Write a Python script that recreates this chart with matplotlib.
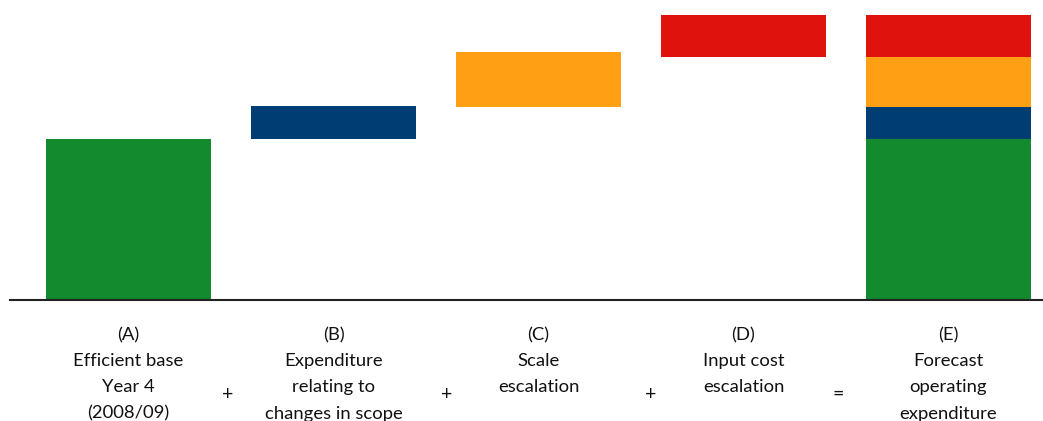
import matplotlib
matplotlib.use("Agg")
import matplotlib.pyplot as plt
from matplotlib.transforms import blended_transform_factory

# Components of forecast operating expenditure (relative units)
components = ["Efficient base", "Scope changes", "Scale escalation", "Input cost escalation"]
colors = ["#138a2e", "#003d73", "#ffa014", "#e0120e"]

# Stacked total (E)
stack_values = [161, 32, 50, 42]

# Waterfall steps (A)-(D): start level and size of each step
step_starts = [0, 161, 193, 243]
step_values = [161, 33.5, 55, 42]

labels = [
    "(A)\nEfficient base\nYear 4\n(2008/09)",
    "(B)\nExpenditure\nrelating to\nchanges in scope",
    "(C)\nScale\nescalation",
    "(D)\nInput cost\nescalation",
    "(E)\nForecast\noperating\nexpenditure",
]
operators = ["+", "+", "+", "="]
operator_x = [0.485, 1.554, 2.549, 3.461]

plt.rcParams["font.family"] = ["Lato", "DejaVu Sans"]

W, H = 1043, 421
fig = plt.figure(figsize=(W / 100, H / 100), dpi=100)
ax = fig.add_axes([10 / W, (H - 300) / H, 1 - 10 / W, (300 - 15) / H])

width = 165 / 205

for i, (b, v, c) in enumerate(zip(step_starts, step_values, colors)):
    ax.bar(i, v, bottom=b, width=width, color=c, linewidth=0)

base = 0
for v, c in zip(stack_values, colors):
    ax.bar(len(stack_values), v, bottom=base, width=width, color=c, linewidth=0)
    base += v

ax.set_xlim(-(128.5 - 10) / 205, (1043 - 128.5) / 205)
ax.set_ylim(0, sum(stack_values))
for s in ["top", "right", "left"]:
    ax.spines[s].set_visible(False)
ax.spines["bottom"].set_color("#222222")
ax.spines["bottom"].set_linewidth(1.5)
ax.set_xticks([])
ax.set_yticks([])

trans = blended_transform_factory(ax.transData, fig.transFigure)
for i, lab in enumerate(labels):
    ax.text(i, 1 - 327 / H, lab, transform=trans, ha="center", va="top",
            fontsize=13.3, linespacing=1.78, color="#111111", clip_on=False)
for x, op in zip(operator_x, operators):
    ax.text(x, 1 - 394 / H, op, transform=trans, ha="center", va="center",
            fontsize=14, color="#111111", clip_on=False)

fig.savefig("out.png", dpi=100)
